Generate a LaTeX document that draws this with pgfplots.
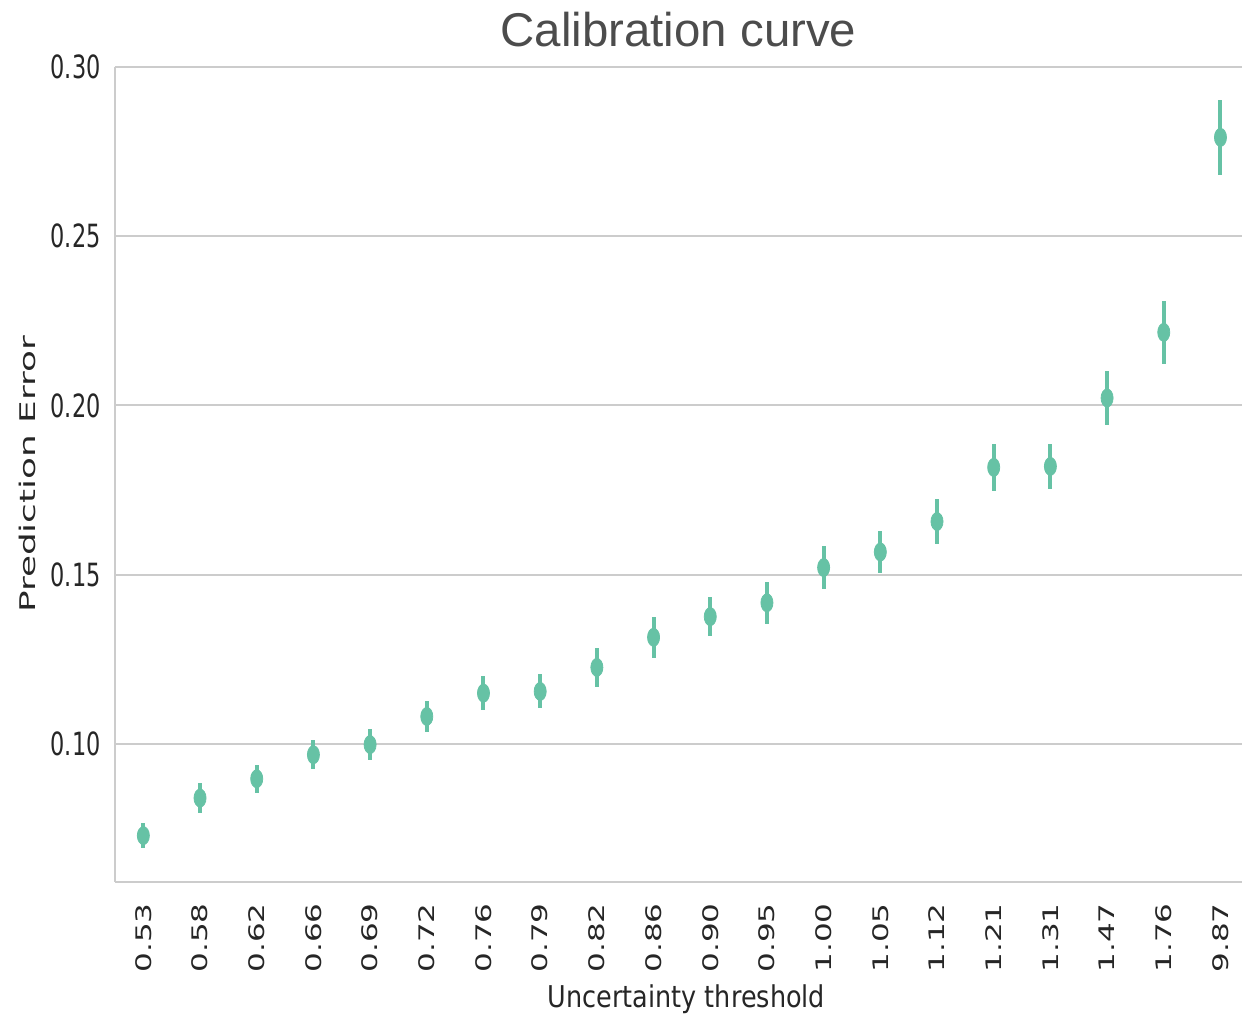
\documentclass[border=0pt]{standalone}
\usepackage{pgfplots}
\pgfplotsset{compat=1.18}
\usetikzlibrary{calc}
\usepackage{fontspec}
\setmainfont{DejaVu Sans}
\newfontfamily\tickyf[FakeStretch=0.70]{DejaVu Sans}
\newfontfamily\tickxf[FakeStretch=1.45]{DejaVu Sans}
\newfontfamily\ylabf[FakeStretch=1.66]{DejaVu Sans}
\newfontfamily\xlabf[FakeStretch=0.85]{DejaVu Sans}
\newfontfamily\titlef{Liberation Sans}
\definecolor{pt}{HTML}{66C2A5}
\definecolor{txt}{HTML}{262626}
\definecolor{gridc}{HTML}{CCCCCC}
\begin{document}
\begin{tikzpicture}
\begin{axis}[
  name=ax,
  scale only axis,
  width=563.5pt, height=407.5pt,
  xmin=-0.5, xmax=19.38,
  ymin=0.0592, ymax=0.30,
  axis x line*=bottom, axis y line*=left,
  axis line style={color=gridc, line width=1pt, -},
  major tick length=0pt,
  xtick={0,...,19},
  xticklabels={0.53,0.58,0.62,0.66,0.69,0.72,0.76,0.79,0.82,0.86,0.90,0.95,1.00,1.05,1.12,1.21,1.31,1.47,1.76,9.87},
  ytick={0.10,0.15,0.20,0.25,0.30},
  yticklabels={0.10,0.15,0.20,0.25,0.30},
  ymajorgrids,
  grid style={color=gridc, line width=1pt},
  xticklabel style={rotate=90, anchor=east, inner sep=0pt, xshift=-10.5pt, text=txt, font=\tickxf\fontsize{10.7}{11}\selectfont},
  yticklabel style={anchor=east, inner sep=0pt, xshift=-7pt, text=txt, font=\tickyf\fontsize{16}{16}\selectfont},
  title={Calibration curve},
  every axis title shift=0pt,
  title style={at={(axis description cs:0.5,1)}, anchor=base, yshift=10pt, inner sep=0pt, text={black!70}, font=\titlef\fontsize{23.7}{24}\selectfont},
  xlabel={Uncertainty threshold},
  xlabel style={at={(axis description cs:0.5,0)}, anchor=base, inner sep=0pt, yshift=-63pt, xshift=4pt, text=txt, font=\xlabf\fontsize{15}{15}\selectfont},
  ylabel={Prediction Error},
  ylabel style={at={(axis description cs:0,0.5)}, anchor=base, inner sep=0pt, yshift=39.5pt, text=txt, font=\ylabf\fontsize{10.8}{11}\selectfont},
  clip=false,
]
\addplot[only marks, color=pt, mark=*, mark size=4.5pt, mark options={xscale=0.67, fill=pt, draw=pt},
  error bars/.cd, y dir=both, y explicit, error mark=none,
  error bar style={line width=2pt, color=pt}]
  table[x=x, y=y, y error=e] {
x y e
0 0.0729 0.00369
1 0.0840 0.00452
2 0.0897 0.0041
3 0.0968 0.0043
4 0.0998 0.0046
5 0.1081 0.00468
6 0.1150 0.00493
7 0.1155 0.00502
8 0.1226 0.00576
9 0.1315 0.00605
10 0.1376 0.0058
11 0.1417 0.0062
12 0.1521 0.00639
13 0.1567 0.00625
14 0.1657 0.00675
15 0.1817 0.0070
16 0.1820 0.00665
17 0.2022 0.00787
18 0.2216 0.00924
19 0.2792 0.01097
};
\end{axis}
\pgfresetboundingbox
\useasboundingbox ($(ax.south west)+(-57.5pt,-67pt)$) rectangle ($(ax.north east)+(0pt,33.5pt)$);
\end{tikzpicture}
\end{document}
